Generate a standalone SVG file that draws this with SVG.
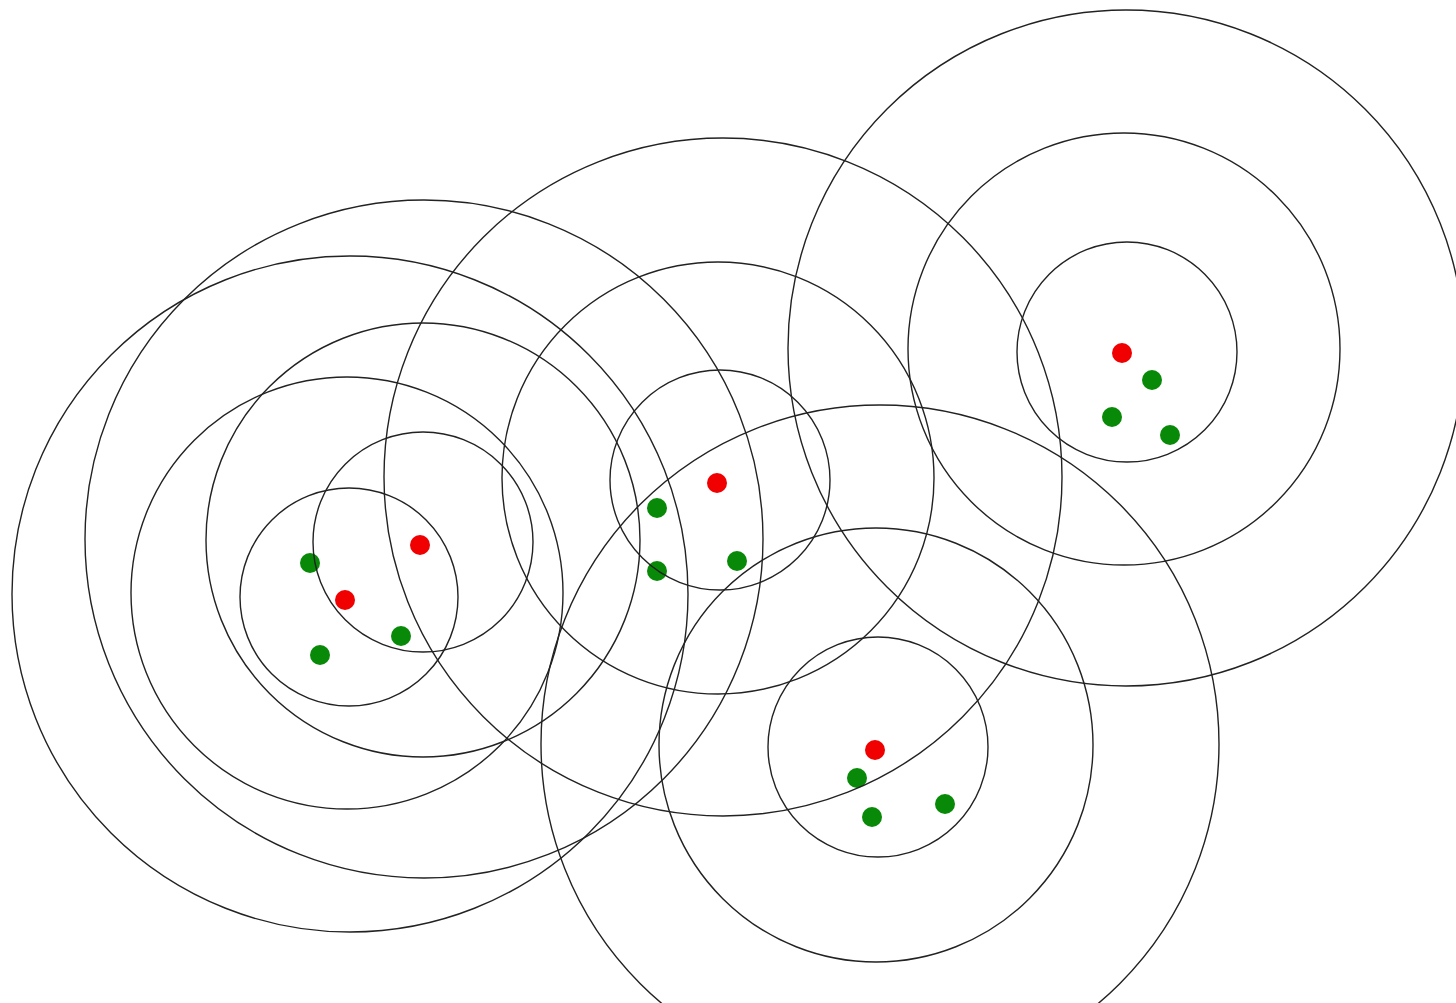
<svg xmlns="http://www.w3.org/2000/svg" width="1456" height="1003" viewBox="0 0 1456 1003">
<style>
.r{fill:#f00000}
.g{fill:#088a08}
circle.c{fill:none;stroke:#222;stroke-width:1.4}
</style>
<rect width="1456" height="1003" fill="#fff"/>
<g id="dots">
<circle class="r" cx="345" cy="600" r="10"/>
<circle class="r" cx="420" cy="545" r="10"/>
<circle class="g" cx="310" cy="563" r="10"/>
<circle class="g" cx="320" cy="655" r="10"/>
<circle class="g" cx="401" cy="636" r="10"/>
<circle class="r" cx="717" cy="483" r="10"/>
<circle class="g" cx="657" cy="508" r="10"/>
<circle class="g" cx="657" cy="571" r="10"/>
<circle class="g" cx="737" cy="561" r="10"/>
<circle class="r" cx="1122" cy="353" r="10"/>
<circle class="g" cx="1152" cy="380" r="10"/>
<circle class="g" cx="1112" cy="417" r="10"/>
<circle class="g" cx="1170" cy="435" r="10"/>
<circle class="r" cx="875" cy="750" r="10"/>
<circle class="g" cx="857" cy="778" r="10"/>
<circle class="g" cx="872" cy="817" r="10"/>
<circle class="g" cx="945" cy="804" r="10"/>
</g>
<g id="rings">
<circle class="c" cx="349" cy="597" r="109"/>
<circle class="c" cx="347" cy="593" r="216"/>
<circle class="c" cx="350" cy="594" r="338"/>
<circle class="c" cx="423" cy="542" r="110"/>
<circle class="c" cx="423" cy="540" r="217"/>
<circle class="c" cx="424" cy="539" r="339"/>
<circle class="c" cx="720" cy="480" r="110"/>
<circle class="c" cx="718" cy="478" r="216"/>
<circle class="c" cx="723" cy="477" r="339"/>
<circle class="c" cx="1127" cy="352" r="110"/>
<circle class="c" cx="1124" cy="349" r="216"/>
<circle class="c" cx="1126" cy="348" r="338"/>
<circle class="c" cx="878" cy="747" r="110"/>
<circle class="c" cx="876" cy="745" r="217"/>
<circle class="c" cx="880" cy="744" r="339"/>
</g>
</svg>
